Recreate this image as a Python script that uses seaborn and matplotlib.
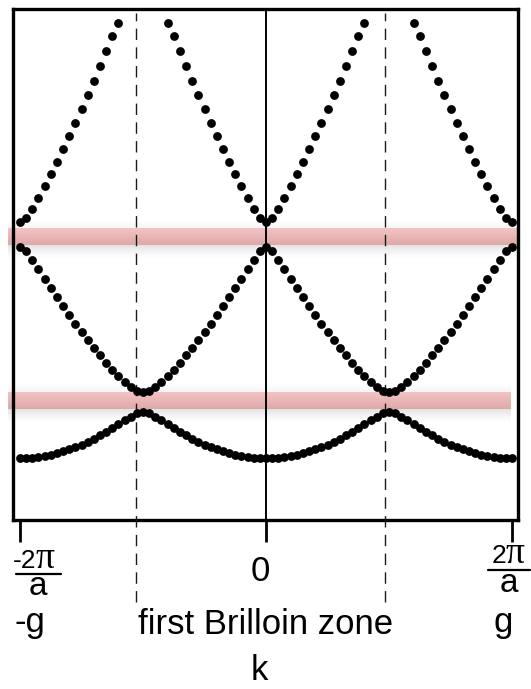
import numpy as np
import pandas as pd
import matplotlib
matplotlib.use("Agg")
import matplotlib.pyplot as plt
from matplotlib.patches import Rectangle
from matplotlib.lines import Line2D
import seaborn as sns

nan = float("nan")

# wave vector k in units of g = 2*pi/a
k_values = [
    -1.000, -0.975, -0.950, -0.925, -0.900, -0.875, -0.850, -0.825, -0.800, -0.775,
    -0.750, -0.725, -0.700, -0.675, -0.650, -0.625, -0.600, -0.575, -0.550, -0.525,
    -0.500, -0.475, -0.450, -0.425, -0.400, -0.375, -0.350, -0.325, -0.300, -0.275,
    -0.250, -0.225, -0.200, -0.175, -0.150, -0.125, -0.100, -0.075, -0.050, -0.025,
    0.000, 0.025, 0.050, 0.075, 0.100, 0.125, 0.150, 0.175, 0.200, 0.225,
    0.250, 0.275, 0.300, 0.325, 0.350, 0.375, 0.400, 0.425, 0.450, 0.475,
    0.500, 0.525, 0.550, 0.575, 0.600, 0.625, 0.650, 0.675, 0.700, 0.725,
    0.750, 0.775, 0.800, 0.825, 0.850, 0.875, 0.900, 0.925, 0.950, 0.975,
    1.000,
]

# energies (units of the free-electron energy at k = g) for the three lowest bands
band1 = [
    -0.002, -0.002, 0.000, 0.003, 0.008, 0.013, 0.020, 0.028, 0.037, 0.047,
    0.059, 0.071, 0.085, 0.100, 0.116, 0.133, 0.150, 0.168, 0.185, 0.199,
    0.205, 0.199, 0.185, 0.168, 0.150, 0.133, 0.116, 0.100, 0.085, 0.071,
    0.059, 0.047, 0.037, 0.028, 0.020, 0.013, 0.008, 0.003, 0.000, -0.002,
    -0.002, -0.002, 0.000, 0.003, 0.008, 0.013, 0.020, 0.028, 0.037, 0.047,
    0.059, 0.071, 0.085, 0.100, 0.116, 0.133, 0.150, 0.168, 0.185, 0.199,
    0.205, 0.199, 0.185, 0.168, 0.150, 0.133, 0.116, 0.100, 0.085, 0.071,
    0.059, 0.047, 0.037, 0.028, 0.020, 0.013, 0.008, 0.003, 0.000, -0.002,
    -0.002,
]
band2 = [
    0.944, 0.926, 0.889, 0.847, 0.804, 0.762, 0.720, 0.679, 0.639, 0.601,
    0.563, 0.527, 0.492, 0.459, 0.427, 0.396, 0.368, 0.341, 0.318, 0.300,
    0.293, 0.300, 0.318, 0.341, 0.368, 0.396, 0.427, 0.459, 0.492, 0.527,
    0.563, 0.601, 0.639, 0.679, 0.720, 0.762, 0.804, 0.847, 0.889, 0.926,
    0.944, 0.926, 0.889, 0.847, 0.804, 0.762, 0.720, 0.679, 0.639, 0.601,
    0.563, 0.527, 0.492, 0.459, 0.427, 0.396, 0.368, 0.341, 0.318, 0.300,
    0.293, 0.300, 0.318, 0.341, 0.368, 0.396, 0.427, 0.459, 0.492, 0.527,
    0.563, 0.601, 0.639, 0.679, 0.720, 0.762, 0.804, 0.847, 0.889, 0.926,
    0.944,
]
band3 = [
    1.058, 1.077, 1.118, 1.166, 1.218, 1.272, 1.328, 1.385, 1.444, 1.504,
    1.566, 1.629, 1.693, 1.758, 1.825, 1.893, 1.950, nan, nan, nan,
    nan, nan, nan, nan, 1.950, 1.893, 1.825, 1.758, 1.693, 1.629,
    1.566, 1.504, 1.444, 1.385, 1.328, 1.272, 1.218, 1.166, 1.118, 1.077,
    1.058, 1.077, 1.118, 1.166, 1.218, 1.272, 1.328, 1.385, 1.444, 1.504,
    1.566, 1.629, 1.693, 1.758, 1.825, 1.893, 1.950, nan, nan, nan,
    nan, nan, nan, nan, 1.950, 1.893, 1.825, 1.758, 1.693, 1.629,
    1.566, 1.504, 1.444, 1.385, 1.328, 1.272, 1.218, 1.166, 1.118, 1.077,
    1.058,
]

# energy gaps highlighted by the shaded strips (lower, upper edge)
gap_strips = [(0.955, 1.031), (0.217, 0.294)]
# horizontal reach of each strip (k)
gap_strip_reach = [(-1.049, 1.029), (-1.049, 0.995)]

# zone-boundary guides and axis ticks
zone_edges = [-0.5305, 0.4854]
tick_k = [-1.0, 0.0, 1.0]

W, H = 531, 689
sns.set_style("white")
plt.rcParams["font.family"] = ["Liberation Sans", "DejaVu Sans"]

fig = plt.figure(figsize=(W / 100, H / 100), dpi=100)
ax = fig.add_axes([13 / W, 1 - 519.5 / H, 505.3 / W, 510.5 / H])

df = pd.DataFrame({
    "k": k_values * 3,
    "E": band1 + band2 + band3,
    "band": ["1"] * len(band1) + ["2"] * len(band2) + ["3"] * len(band3),
}).dropna()

sns.scatterplot(data=df, x="k", y="E", color="black", s=40, linewidth=0,
                legend=False, ax=ax, zorder=4)

ax.set_xlim(-1.0285, 1.0256)
ax.set_ylim(-0.2775, 2.0148)
ax.set_xlabel("")
ax.set_ylabel("")
ax.set_yticks([])
ax.set_xticks(tick_k)
ax.set_xticklabels([])
ax.tick_params(axis="x", direction="out", length=16, width=2.0, color="black",
               bottom=True)
for sp in ax.spines.values():
    sp.set_visible(True)
    sp.set_color("black")
    sp.set_linewidth(2.4)

# k = 0 line
ax.axvline(0.0, color="black", lw=1.4, zorder=3)

# Brillouin zone boundaries, continued below the frame
for xe in zone_edges:
    ax.plot([xe, xe], [-0.646, 1.998], color="#1a1a1a", lw=1.0,
            ls=(0, (8.2, 5.3)), clip_on=False, zorder=3)

# shaded strips marking the band gaps, with a soft shadow
px_e = 1 / 222.7
top_col = np.array([0.95, 0.74, 0.74])
bot_col = np.array([0.85, 0.62, 0.62])
for (e0, e1), (x0, x1) in zip(gap_strips, gap_strip_reach):
    n = 12
    edges = np.linspace(e0, e1, n + 1)
    for i in range(n):
        t = (i + 0.5) / n
        col = bot_col * (1 - t) + top_col * t
        ax.add_patch(Rectangle((x0, edges[i]), x1 - x0, edges[i + 1] - edges[i],
                               facecolor=col, edgecolor="none", alpha=0.9,
                               clip_on=False, zorder=2))
    for i in range(14):
        a = 0.16 * (1 - i / 14) ** 1.5
        ax.add_patch(Rectangle((x0, e0 - (i + 1) * px_e), x1 - x0, px_e,
                               facecolor="0.35", edgecolor="none", alpha=a,
                               clip_on=False, zorder=1.5))
    for i in range(7):
        a = 0.06 * (1 - i / 7)
        ax.add_patch(Rectangle((x0, e1 + i * px_e), x1 - x0, px_e,
                               facecolor="0.4", edgecolor="none", alpha=a,
                               clip_on=False, zorder=1.5))


def fpx(x, y):
    return x / W, 1 - y / H


def text_px(x, y, s, size, ha="center", family=None):
    kw = {}
    if family is not None:
        kw["family"] = family
    fig.text(*fpx(x, y), s, fontsize=size, ha=ha, va="baseline", color="black", **kw)


def bar_px(x0, x1, y):
    fig.add_artist(Line2D([x0 / W, x1 / W], [1 - y / H] * 2,
                          transform=fig.transFigure, color="black", lw=1.6))


serif = ["Liberation Serif", "DejaVu Serif"]

# tick labels: -2pi/a, 0, 2pi/a
text_px(36, 568, "-2", 19, ha="right")
text_px(36, 568, "\u03c0", 27, ha="left", family=serif)
bar_px(16, 61, 573.5)
text_px(38, 595, "a", 24)

text_px(260, 581, "0", 25)

text_px(506, 563, "2", 19, ha="right")
text_px(506, 563, "\u03c0", 27, ha="left", family=serif)
bar_px(488, 530, 570)
text_px(508.5, 592, "a", 24)

text_px(30, 632, "-g", 25)
text_px(266, 634, "first Brilloin zone", 25)
text_px(503, 632, "g", 25)
text_px(259, 680, "k", 25)

fig.savefig("out.png", dpi=100)
